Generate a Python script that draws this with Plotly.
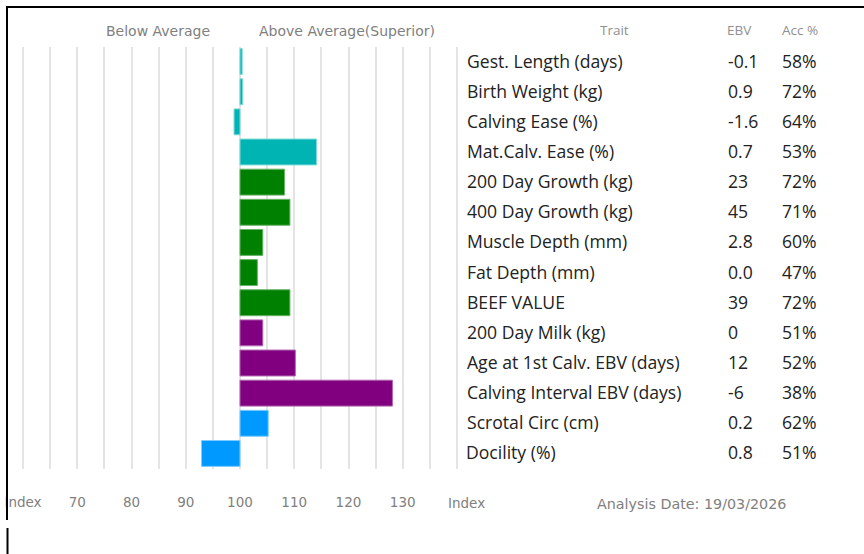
import plotly.graph_objects as go

W, H = 864, 554

traits = ["Gest. Length (days)", "Birth Weight (kg)", "Calving Ease (%)", "Mat.Calv. Ease (%)",
          "200 Day Growth (kg)", "400 Day Growth (kg)", "Muscle Depth (mm)", "Fat Depth (mm)",
          "BEEF VALUE", "200 Day Milk (kg)", "Age at 1st Calv. EBV (days)",
          "Calving Interval EBV (days)", "Scrotal Circ (cm)", "Docility (%)"]
ebv = ["-0.1", "0.9", "-1.6", "0.7", "23", "45", "2.8", "0.0", "39", "0", "12", "-6", "0.2", "0.8"]
acc = ["58%", "72%", "64%", "53%", "72%", "71%", "60%", "47%", "72%", "51%", "52%", "38%", "62%", "51%"]
index_values = [100.4, 100.5, 98.9, 114.1, 108.2, 109.2, 104.2, 103.2, 109.2, 104.2, 110.2, 128.1, 105.2, 92.9]
groups = ["teal"] * 4 + ["green"] * 5 + ["purple"] * 3 + ["blue"] * 2
tick_vals = [60, 70, 80, 90, 100, 110, 120, 130]
tick_text = ["Index", "70", "80", "90", "100", "110", "120", "130"]

fill = {"teal": "#00b4b4", "green": "#008000", "purple": "#800080", "blue": "#0099ff"}
edge = {"teal": "#7fd9d9", "green": "#66b366", "purple": "#b366b3", "blue": "#80ccff"}

base = 100
deltas = [v - base for v in index_values]

fig = go.Figure()
fig.add_trace(go.Bar(
    y=traits, x=deltas, base=base, orientation="h",
    marker=dict(color=[fill[g] for g in groups],
                line=dict(color=[edge[g] for g in groups], width=1)),
    width=0.86, hoverinfo="skip", showlegend=False,
))

def px(x):
    return x / W

def py(y):
    return 1 - y / H

GRAY = "#808080"
TICKFONT = dict(family="DejaVu Sans", size=13.5, color=GRAY)

# 5.425 px per index unit; 60 -> x=23, 140 -> x=457
UNIT = 5.425
fig.update_layout(
    width=W, height=H,
    margin=dict(l=0, r=0, t=0, b=0),
    paper_bgcolor="white", plot_bgcolor="white",
    xaxis=dict(domain=[px(23 - UNIT), px(457 + UNIT)], range=[59, 141], showgrid=True, gridcolor="#e4e4e4",
               gridwidth=1.5, zeroline=False, showline=False,
               tickmode="array", tickvals=tick_vals, ticktext=tick_text,
               tickfont=TICKFONT, ticks="", ticklabelstandoff=24, automargin=False),
    yaxis=dict(domain=[py(468.5), py(46.5)], autorange="reversed", showticklabels=False,
               showgrid=False, zeroline=False, showline=False, ticks="", automargin=False),
    font=dict(family="Open Sans"),
)
fig.update_xaxes(minor=dict(tick0=60, dtick=5, showgrid=True, gridcolor="#e4e4e4", gridwidth=1.5))

ann = []
def add(x, y, text, font, xanchor="center", yref="paper", yshift=0):
    ann.append(dict(x=px(x), y=y, xref="paper", yref=yref, text=text, showarrow=False,
                    xanchor=xanchor, yanchor="middle", font=font, yshift=yshift))

add(158, py(31), "Below Average", dict(family="DejaVu Sans", size=14, color=GRAY))
add(347, py(31), "Above Average(Superior)", dict(family="DejaVu Sans", size=14, color=GRAY))
add(466, py(503), "Index", TICKFONT)
add(691, py(504), "Analysis Date: 19/03/2026", dict(family="DejaVu Sans", size=14.3, color=GRAY))
HEAD = dict(family="Open Sans", size=13.5, color="#909090")
for t, xc in [("Trait", 614), ("EBV", 739), ("Acc %", 800)]:
    add(xc, py(30), t, HEAD)
ROW = dict(family="Open Sans", size=17.6, color="#222222")
for i, t in enumerate(traits):
    add(464.5, t, t, ROW, xanchor="left", yref="y", yshift=1)
    add(726, t, ebv[i], ROW, xanchor="left", yref="y", yshift=1)
    add(780, t, acc[i], ROW, xanchor="left", yref="y", yshift=1)
fig.update_layout(annotations=ann)

shapes = [
    dict(type="line", xref="paper", yref="paper", x0=px(6), x1=px(864), y0=py(7), y1=py(7),
         line=dict(color="black", width=2)),
    dict(type="line", xref="paper", yref="paper", x0=px(7), x1=px(7), y0=py(6), y1=py(520),
         line=dict(color="black", width=2)),
    dict(type="line", xref="paper", yref="paper", x0=px(7.5), x1=px(7.5), y0=py(528), y1=py(554),
         line=dict(color="black", width=2)),
]
fig.update_layout(shapes=shapes)

fig.write_html("out.html", config={"displayModeBar": False},
               post_script="document.body.style.margin='0';")
